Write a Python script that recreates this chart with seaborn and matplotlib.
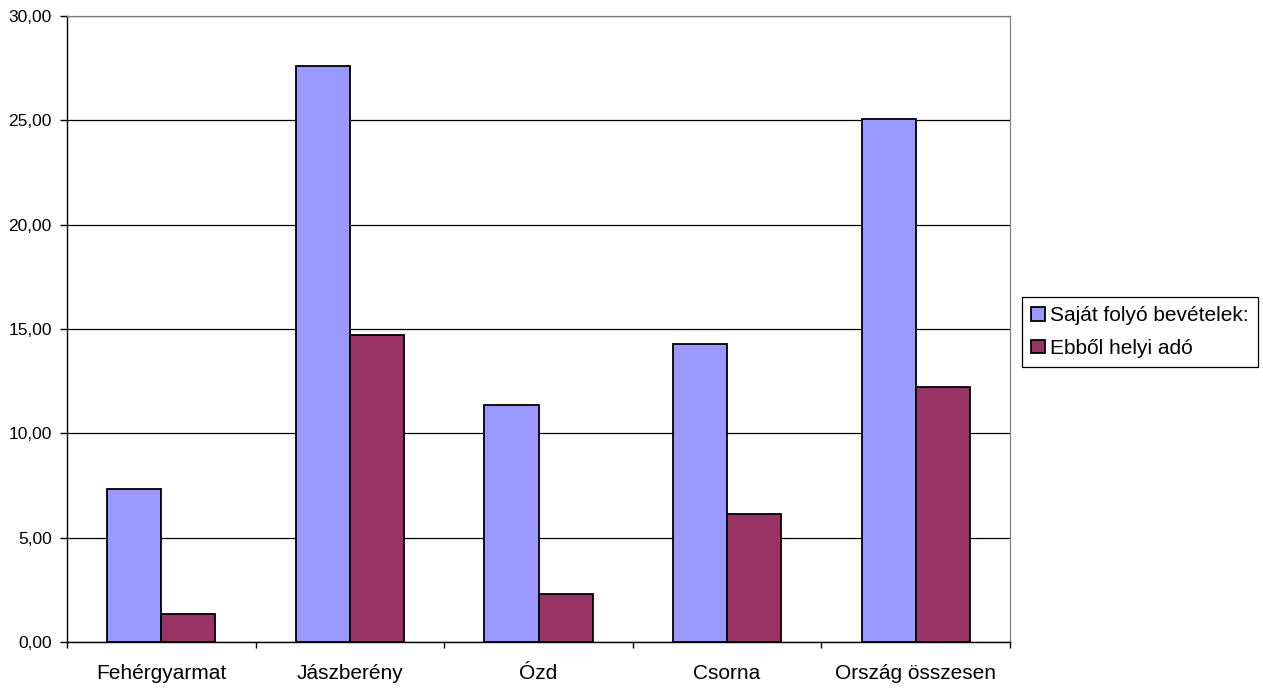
import matplotlib
matplotlib.use("Agg")
import matplotlib.pyplot as plt
import numpy as np
import pandas as pd
import seaborn as sns
from matplotlib.ticker import FuncFormatter, MultipleLocator, FixedLocator

# Data
CATEGORIES = ["Fehérgyarmat", "Jászberény", "Ózd", "Csorna", "Ország összesen"]
SERIES = ["Saját folyó bevételek:", "Ebből helyi adó"]
SAJAT = [7.32, 27.60, 11.38, 14.28, 25.06]
HELYI = [1.34, 14.71, 2.29, 6.15, 12.23]
COLORS = ["#9999FF", "#993366"]

sns.set_style("white")
plt.rcParams["font.family"] = ["Liberation Sans", "DejaVu Sans"]
plt.rcParams["xtick.bottom"] = True
plt.rcParams["ytick.left"] = True
plt.rcParams["text.color"] = "black"
plt.rcParams["xtick.color"] = "black"
plt.rcParams["ytick.color"] = "black"
plt.rcParams["axes.labelcolor"] = "black"


def main() -> None:
    df = pd.DataFrame(
        {
            "Település": CATEGORIES * 2,
            "Sorozat": [SERIES[0]] * len(CATEGORIES) + [SERIES[1]] * len(CATEGORIES),
            "Érték": SAJAT + HELYI,
        }
    )

    fig = plt.figure(figsize=(12.63, 6.89), dpi=100)
    ax = fig.add_axes([67 / 1263, 1 - 642 / 689, (1010 - 67) / 1263, (642 - 16) / 689])

    sns.barplot(
        data=df,
        x="Település",
        y="Érték",
        hue="Sorozat",
        palette=COLORS,
        saturation=1,
        width=0.573,
        edgecolor="black",
        linewidth=1.3,
        ax=ax,
        legend=True,
    )

    ax.set_xlim(-0.5, len(CATEGORIES) - 0.5)
    ax.set_ylim(0, 30)
    ax.yaxis.set_major_locator(MultipleLocator(5))
    ax.yaxis.set_major_formatter(FuncFormatter(lambda v, _: f"{v:.2f}".replace(".", ",")))
    ax.grid(axis="y", color="black", linewidth=0.9)
    ax.set_axisbelow(True)
    ax.set_xlabel("")
    ax.set_ylabel("")

    for side in ["top", "right"]:
        ax.spines[side].set_color("#808080")
        ax.spines[side].set_linewidth(0.9)
    for side in ["left", "bottom"]:
        ax.spines[side].set_color("black")
        ax.spines[side].set_linewidth(1.0)

    # Excel-style ticks between categories
    ax.xaxis.set_minor_locator(FixedLocator(np.arange(-0.5, len(CATEGORIES), 1.0)))
    ax.tick_params(axis="x", which="major", length=0, pad=16, labelsize=15, labelcolor="black")
    ax.tick_params(axis="x", which="minor", length=4, width=1.0, color="black", direction="out")
    ax.tick_params(axis="y", which="major", length=5, width=1.0, color="black",
                   direction="out", labelsize=12.5, pad=6, labelcolor="black")

    handles, labels = ax.get_legend_handles_labels()
    leg = ax.legend(
        handles,
        labels,
        loc="center left",
        bbox_to_anchor=(1022 / 1263, 1 - 332 / 689),
        bbox_transform=fig.transFigure,
        frameon=True,
        fancybox=False,
        edgecolor="black",
        framealpha=1,
        fontsize=15,
        handlelength=0.65,
        handleheight=0.65,
        handletextpad=0.22,
        borderpad=0.45,
        labelspacing=0.65,
        borderaxespad=0,
    )
    leg.get_frame().set_linewidth(0.9)
    for t in leg.get_texts():
        t.set_color("black")

    fig.savefig("out.png", dpi=100)
    plt.close(fig)


if __name__ == "__main__":
    main()
